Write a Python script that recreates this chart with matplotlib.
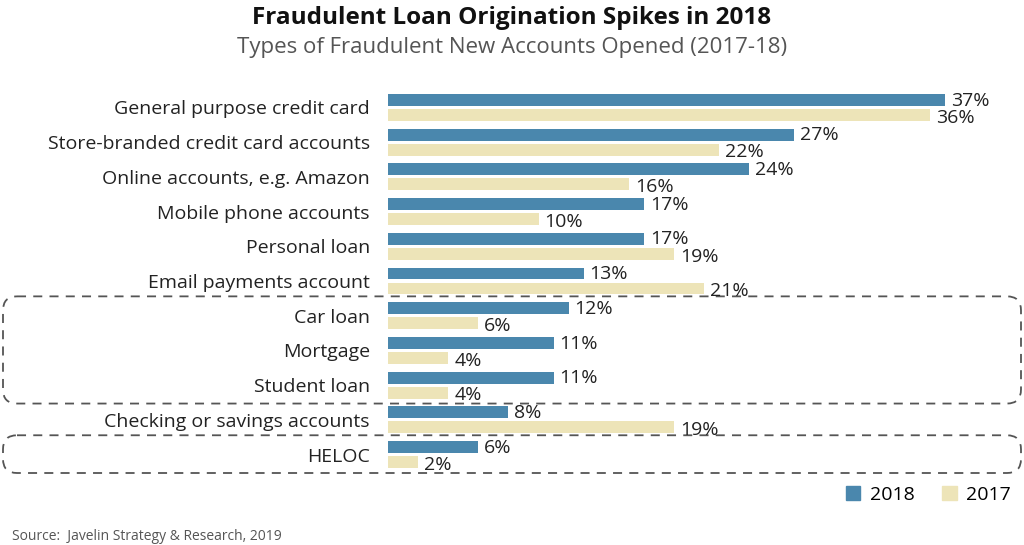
import matplotlib.pyplot as plt
from matplotlib.patches import FancyBboxPatch, Patch

# data
categories = [
    "General purpose credit card",
    "Store-branded credit card accounts",
    "Online accounts, e.g. Amazon",
    "Mobile phone accounts",
    "Personal loan",
    "Email payments account",
    "Car loan",
    "Mortgage",
    "Student loan",
    "Checking or savings accounts",
    "HELOC",
]
v2018 = [37, 27, 24, 17, 17, 13, 12, 11, 11, 8, 6]
v2017 = [36, 22, 16, 10, 19, 21, 6, 4, 4, 19, 2]
boxed_groups = [(6, 8), (10, 10)]

blue = "#4a87ad"
beige = "#ede4b8"
txt = "#222222"
plt.rcParams["font.family"] = ["Open Sans", "DejaVu Sans"]

W, H = 1024, 545
fig = plt.figure(figsize=(W / 100, H / 100), dpi=100)
# axes in pixels: x 388..1010, y 90..472
ax = fig.add_axes([388 / W, 1 - 472 / H, (1010 - 388) / W, (472 - 90) / H])
ax.patch.set_visible(False)

y = list(range(len(categories)))
off = 0.216
h = 0.345
ax.barh([i - off for i in y], v2018, height=h, color=blue, label="2018")
ax.barh([i + off for i in y], v2017, height=h, color=beige, label="2017")

for i in y:
    ax.text(v2018[i] + 0.4, i - off + 0.02, f"{v2018[i]}%", va="center", ha="left",
            fontsize=14, color=txt)
    ax.text(v2017[i] + 0.4, i + off + 0.08, f"{v2017[i]}%", va="center", ha="left",
            fontsize=14, color=txt)

ax.set_xlim(0, (1010 - 388) / 15.05)
ax.set_ylim(len(categories) - 0.5, -0.5)
ax.set_yticks(y)
ax.set_yticklabels(categories, fontsize=14, color=txt)
ax.tick_params(axis="y", length=0, pad=13)
ax.set_xticks([])
for s in ax.spines.values():
    s.set_visible(False)

# dashed rounded boxes, in a pixel-space overlay
ov = fig.add_axes([0, 0, 1, 1], zorder=-1)
ov.set_xlim(0, W)
ov.set_ylim(H, 0)
ov.axis("off")
row_px = (472 - 90) / len(categories)
for a, b in boxed_groups:
    top = 90 + a * row_px - 2
    bot = 90 + (b + 1) * row_px + 1
    ov.add_patch(FancyBboxPatch((3, top), W - 6, bot - top,
                                boxstyle="round,pad=0,rounding_size=14",
                                fill=False, ec="#555555", lw=1.3, ls=(0, (5, 4))))

fig.text(0.5, 1 - 18 / H, "Fraudulent Loan Origination Spikes in 2018", ha="center",
         va="center", fontsize=17.5, fontweight="bold", color="#111111")
fig.text(0.5, 1 - 47 / H, "Types of Fraudulent New Accounts Opened (2017-18)", ha="center",
         va="center", fontsize=16, color="#555555")
fig.text(12 / W, 1 - 536 / H, "Source:  Javelin Strategy & Research, 2019", ha="left",
         va="center", fontsize=10, color="#555555")

handles = [Patch(color=blue, label="2018"), Patch(color=beige, label="2017")]
fig.legend(handles=handles, loc="center right", bbox_to_anchor=(1019 / W, 1 - 495 / H),
           ncol=2, frameon=False, fontsize=14, handlelength=0.75, handleheight=0.75,
           handletextpad=0.5, columnspacing=1.4, borderaxespad=0)

fig.savefig("out.png", dpi=100)
